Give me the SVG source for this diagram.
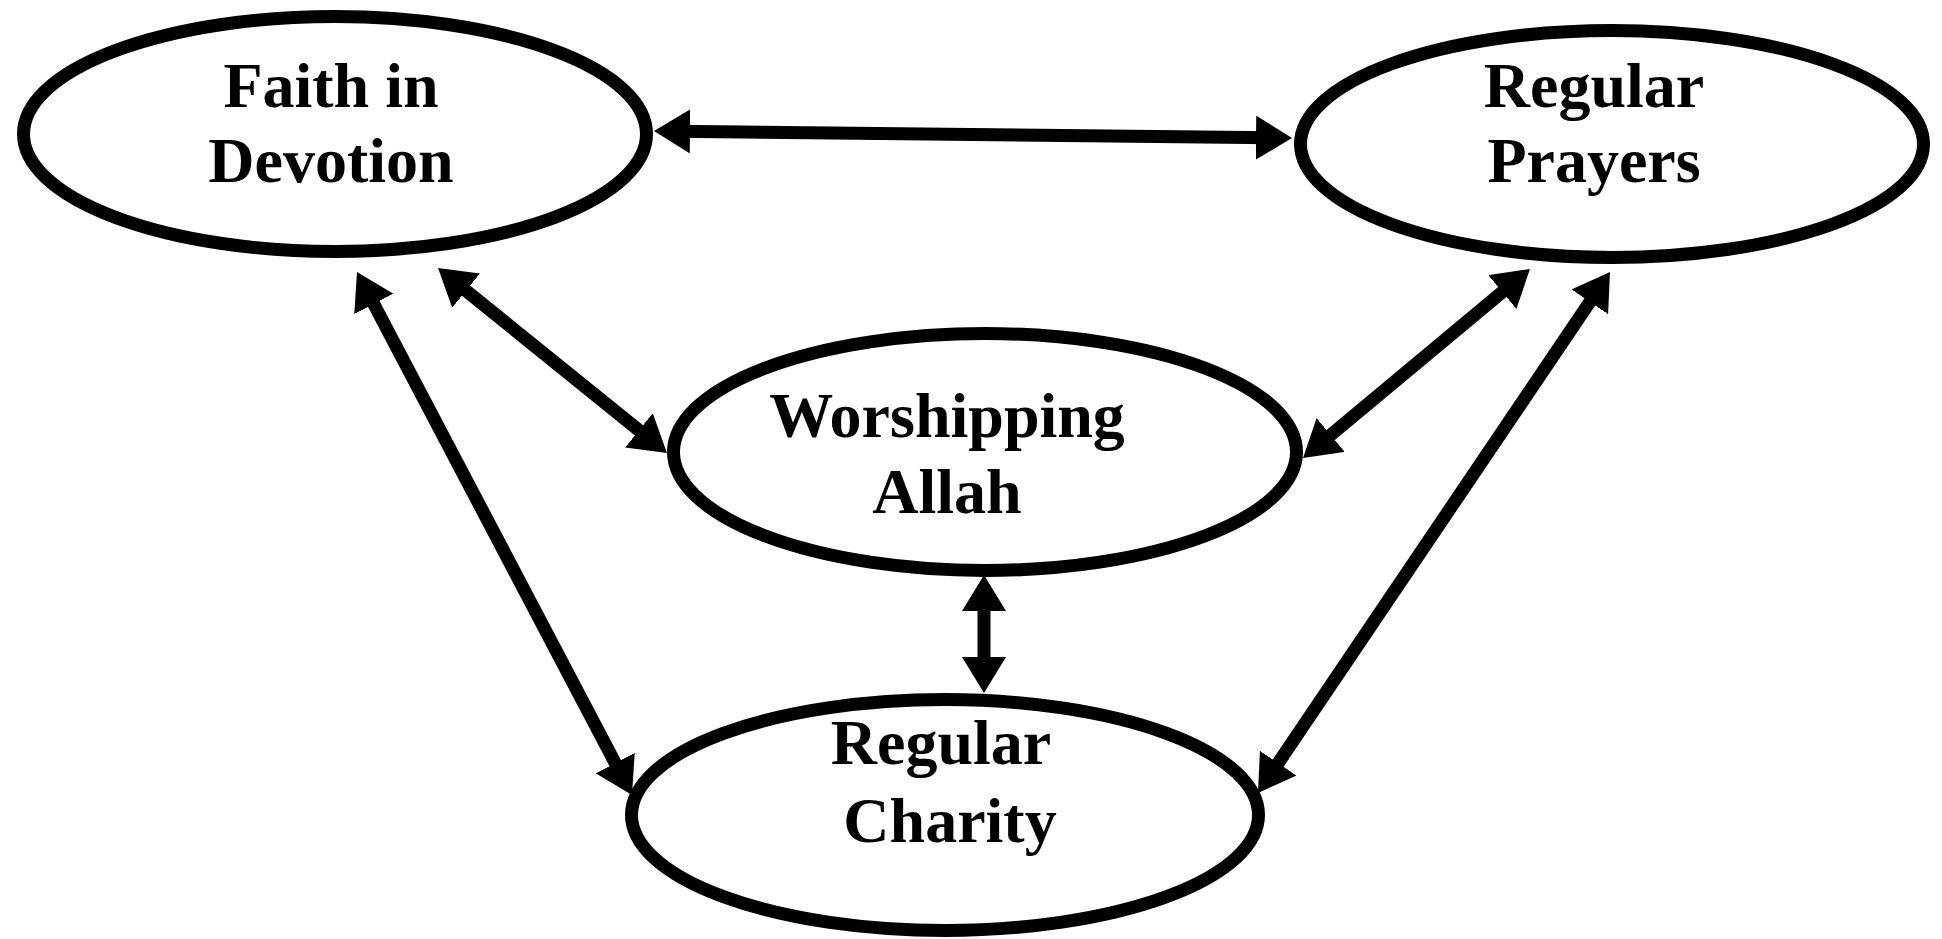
<svg xmlns="http://www.w3.org/2000/svg" width="1942" height="939" viewBox="0 0 1942 939">
  <style>
    .node ellipse { fill: #ffffff; stroke: #000000; stroke-width: 13; }
    .node text { font-family: "Liberation Serif", "Times New Roman", serif; font-weight: bold; font-size: 64px; fill: #000000; text-anchor: middle; }
    .conn line { stroke: #000000; stroke-width: 13; fill: none; marker-start: url(#head); marker-end: url(#head); }
  </style>
  <defs>
    <marker id="head" markerUnits="userSpaceOnUse" markerWidth="36" markerHeight="44" viewBox="0 0 36 44" refX="16" refY="22" orient="auto-start-reverse">
      <path d="M0,0 L36,22 L0,44 z" fill="#000000"/>
    </marker>
  </defs>
  <rect width="1942" height="939" fill="#ffffff"/>
  <g id="connectors" class="conn">
    <line x1="674" y1="131.2" x2="1272" y2="137.8"/>
    <line x1="453.6" y1="280.6" x2="651.4" y2="440.4"/>
    <line x1="366.3" y1="289.7" x2="622.7" y2="777.3"/>
    <line x1="1514.6" y1="281.8" x2="1318.4" y2="445.2"/>
    <line x1="1598.8" y1="288.6" x2="1269.2" y2="776.4"/>
    <line x1="984" y1="595" x2="984" y2="673"/>
  </g>
  <g id="faith" class="node">
    <ellipse cx="335" cy="134" rx="311.5" ry="117.5"/>
    <text x="331" y="107">Faith in</text>
    <text x="331" y="182">Devotion</text>
  </g>
  <g id="prayers" class="node">
    <ellipse cx="1612" cy="144" rx="311.5" ry="113.5"/>
    <text x="1594" y="107">Regular</text>
    <text x="1594" y="182">Prayers</text>
  </g>
  <g id="worship" class="node">
    <ellipse cx="985" cy="452" rx="311.5" ry="118.5"/>
    <text x="947" y="437">Worshipping</text>
    <text x="947" y="513">Allah</text>
  </g>
  <g id="charity" class="node">
    <ellipse cx="945" cy="815" rx="313.5" ry="115.5"/>
    <text x="941" y="764">Regular</text>
    <text x="950" y="842">Charity</text>
  </g>
</svg>
